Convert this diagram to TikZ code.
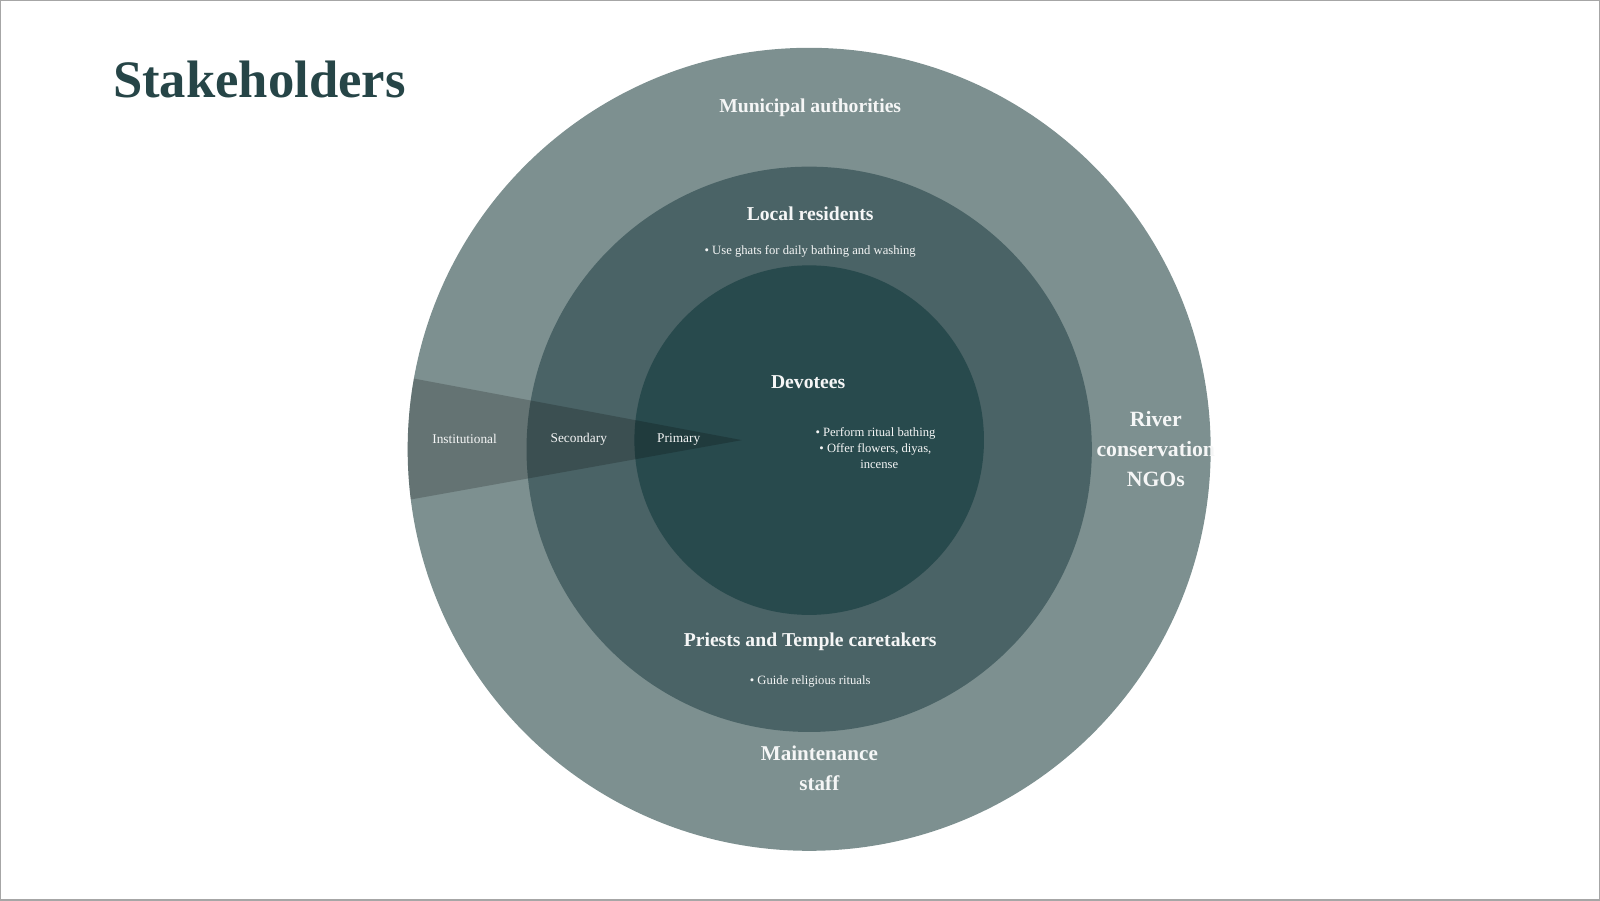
\documentclass[tikz,border=0pt]{standalone}
\usepackage{fontspec}
\setmainfont{Liberation Serif}
\usetikzlibrary{positioning,calc}
\definecolor{ringout}{HTML}{7D9090}
\definecolor{ringmid}{HTML}{4A6366}
\definecolor{ringin}{HTML}{284A4D}
\definecolor{titlecol}{HTML}{264547}
\tikzset{
  ring/.style={text=white!92!ringout, font=\bfseries\fontsize{5.6}{7}\selectfont, align=center},
  note/.style={text=white!92!ringout, font=\fontsize{3.6}{4.6}\selectfont, align=center},
  level/.style={text=white!92!ringout, font=\fontsize{3.8}{4.6}\selectfont}
}
\begin{document}
\begin{tikzpicture}[x=0.010204cm,y=-0.010204cm]
  % frame
  \draw[gray!70, line width=0.4pt] (0,0) rectangle (1568,882);
  \useasboundingbox (0,0) rectangle (1568,882);

  % title
  \node[anchor=west, text=titlecol, font=\bfseries\fontsize{15}{18}\selectfont] (title) at (98,77) {Stakeholders};

  % rings
  \coordinate (c) at (793,440);
  \fill[ringout] (c) circle (4.02cm);
  \fill[ringmid] (c) circle (2.83cm);
  \fill[ringin] ($(c)+(0,-9)$) circle (1.75cm);

  % wedge
  \begin{scope}
    \clip (c) circle (4.02cm);
    \fill[black, opacity=0.2] (370,364) -- (727,431) -- (370,495) -- cycle;
  \end{scope}

  % labels
  \node[ring] (muni) at (794,105) {Municipal authorities};
  \node[ring] (local) at (794,209) {Local residents};
  \node[note, below=0pt of local] (localnote) {• Use ghats for daily bathing and washing};
  \node[ring] (dev) at (792,374) {Devotees};
  \node[note] (devnote) at (858,439) {• Perform ritual bathing\\• Offer flowers, diyas,\\\phantom{• }incense};
  \node[ring, font=\bfseries\fontsize{6.2}{8.6}\selectfont] (ngo) at (1133,440) {River\\conservation\\NGOs};
  \node[ring] (priest) at (794,629) {Priests and Temple caretakers};
  \node[note, below=0pt of priest] (priestnote) {• Guide religious rituals};
  \node[ring, font=\bfseries\fontsize{6}{8.4}\selectfont] (maint) at (803,753) {Maintenance\\staff};

  \node[level] (inst) at (455,430) {Institutional};
  \node[level] (sec) at (567,430) {Secondary};
  \node[level] (prim) at (665,430) {Primary};
\end{tikzpicture}
\end{document}
